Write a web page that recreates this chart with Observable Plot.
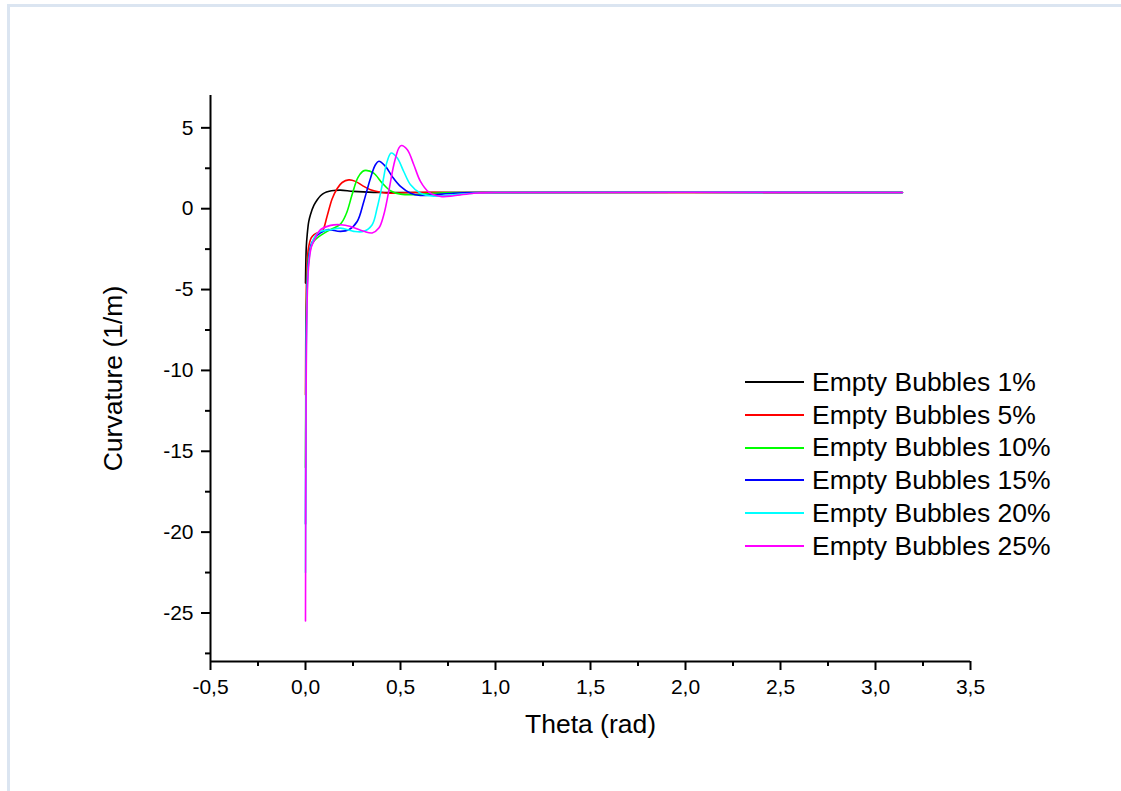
<!DOCTYPE html>
<html><head><meta charset="utf-8">
<script src="https://cdn.jsdelivr.net/npm/d3@7"></script>
<script src="https://cdn.jsdelivr.net/npm/@observablehq/plot@0.6"></script>
<style>
body{margin:0;background:#fff;}
#wrap{position:relative;width:1121px;height:791px;overflow:hidden;font-family:"Liberation Sans",Arial,sans-serif;background:#fff;}
#border{position:absolute;left:7px;top:4px;right:0;bottom:0;border-top:3px solid #dbe5f1;border-left:3px solid #dbe5f1;}
#chart{position:absolute;left:0;top:0;}
#legend{position:absolute;left:745px;top:366px;}
.row{display:flex;align-items:center;height:32.7px;}
.sw{width:59px;height:0;border-top:2px solid;margin-right:8px;}
.lab{font-size:26.5px;color:#000;line-height:1;white-space:nowrap;}
</style></head>
<body><div id="wrap"><div id="border"></div><div id="chart"></div><div id="legend"></div></div>
<script>
const seriesNames = ["Empty Bubbles 1%","Empty Bubbles 5%","Empty Bubbles 10%","Empty Bubbles 15%","Empty Bubbles 20%","Empty Bubbles 25%"];
const seriesColors = ["#000000","#ff0000","#00ff00","#0000ff","#00ffff","#ff00ff"];

const theta1 = [0, 0.004, 0.009, 0.017, 0.026, 0.044, 0.062, 0.079, 0.1, 0.125, 0.15, 0.184, 0.253, 0.358, 0.5, 1.0, 3.1416];
const curv1  = [-4.6, -2.4, -1.6, -0.8, -0.37, 0.2, 0.55, 0.8, 0.98, 1.08, 1.13, 1.15, 1.07, 1.01, 1.0, 1.0, 1.0];

const theta2 = [0, 0.003, 0.008, 0.016, 0.03, 0.045, 0.07, 0.088, 0.114, 0.14, 0.167, 0.193, 0.228, 0.263, 0.298, 0.342, 0.395, 0.447, 0.55, 1.0, 3.1416];
const curv2  = [-11.5, -6, -3.5, -2.4, -1.8, -1.6, -1.45, -1.4, -0.45, 0.6, 1.25, 1.62, 1.78, 1.69, 1.44, 1.17, 1.02, 0.96, 1.0, 1.0, 1.0];

const theta3 = [0, 0.003, 0.008, 0.016, 0.03, 0.045, 0.062, 0.114, 0.184, 0.215, 0.245, 0.275, 0.3, 0.318, 0.359, 0.404, 0.447, 0.5, 0.57, 0.674, 0.8, 3.1416];
const curv3  = [-16, -8, -4.5, -3.0, -2.3, -2.0, -1.8, -1.4, -0.95, -0.3, 0.86, 1.9, 2.3, 2.37, 2.2, 1.58, 1.11, 0.9, 0.86, 0.95, 1.0, 1.0];

const theta4 = [0, 0.003, 0.008, 0.016, 0.03, 0.05, 0.079, 0.114, 0.184, 0.228, 0.272, 0.307, 0.342, 0.368, 0.386, 0.421, 0.456, 0.5, 0.553, 0.605, 0.674, 0.779, 0.9, 3.1416];
const curv4  = [-19.5, -9.5, -5, -3.2, -2.2, -1.8, -1.5, -1.3, -1.4, -1.3, -0.79, 0.45, 1.89, 2.72, 2.93, 2.62, 2.0, 1.38, 0.96, 0.82, 0.86, 0.96, 1.0, 1.0];

const theta5 = [0, 0.003, 0.008, 0.016, 0.03, 0.05, 0.08, 0.132, 0.184, 0.254, 0.307, 0.351, 0.377, 0.404, 0.43, 0.451, 0.483, 0.517, 0.553, 0.605, 0.674, 0.779, 0.884, 1.0, 3.1416];
const curv5  = [-22.5, -11, -5.5, -3.4, -2.3, -1.7, -1.4, -1.3, -1.2, -1.4, -1.4, -0.99, 0.04, 1.48, 2.93, 3.44, 3.13, 2.3, 1.48, 0.96, 0.78, 0.86, 0.96, 1.0, 1.0];

const theta6 = [0, 0.003, 0.008, 0.016, 0.03, 0.044, 0.079, 0.132, 0.184, 0.237, 0.307, 0.351, 0.386, 0.412, 0.438, 0.465, 0.491, 0.505, 0.536, 0.57, 0.605, 0.649, 0.711, 0.781, 0.886, 1.0, 3.1416];
const curv6  = [-25.5, -12, -6, -3.6, -2.4, -2.0, -1.3, -1.03, -0.99, -1.1, -1.4, -1.5, -1.2, -0.37, 1.07, 2.72, 3.75, 3.91, 3.65, 2.72, 1.69, 1.03, 0.76, 0.80, 0.96, 1.0, 1.0];

const xTicks = [-0.5, 0, 0.5, 1, 1.5, 2, 2.5, 3, 3.5];
const xMinorTicks = [-0.25, 0.25, 0.75, 1.25, 1.75, 2.25, 2.75, 3.25];
const yTicks = [-25, -20, -15, -10, -5, 0, 5];
const yMinorTicks = [-27.5, -22.5, -17.5, -12.5, -7.5, -2.5, 2.5];
const xLabel = "Theta (rad)";
const yLabel = "Curvature (1/m)";

const thetas = [theta1, theta2, theta3, theta4, theta5, theta6];
const curvs = [curv1, curv2, curv3, curv4, curv5, curv6];
const data = seriesNames.flatMap((name, s) => thetas[s].map((t, i) => ({theta: t, k: curvs[s][i], name})));

const fontFamily = '"Liberation Sans", Arial, sans-serif';
const chart = Plot.plot({
  width: 1121, height: 791,
  marginLeft: 210, marginRight: 151, marginTop: 95, marginBottom: 130,
  style: {fontFamily, fontSize: "21px", background: "transparent", color: "#000"},
  x: {domain: [-0.5, 3.5]},
  y: {domain: [-28, 7]},
  color: {domain: seriesNames, range: seriesColors},
  marks: [
    Plot.axisX(xTicks, {tickSize: 9, tickPadding: 9, strokeWidth: 2, fontSize: 21, label: null, tickFormat: d => d.toFixed(1).replace(".", ",")}),
    Plot.axisX(xMinorTicks, {tickSize: 5, strokeWidth: 2, label: null, tickFormat: () => ""}),
    Plot.axisY(yTicks, {tickSize: 9, tickPadding: 8, strokeWidth: 2, fontSize: 21, label: null, tickFormat: d => String(d)}),
    Plot.axisY(yMinorTicks, {tickSize: 5, strokeWidth: 2, label: null, tickFormat: () => ""}),
    Plot.ruleY([-28], {strokeWidth: 2}),
    Plot.ruleX([-0.5], {strokeWidth: 2}),
    Plot.line(data, {x: "theta", y: "k", stroke: "name", z: "name", curve: "catmull-rom", strokeWidth: 1.6}),
    Plot.text([xLabel], {frameAnchor: "bottom", dy: 71, fontSize: 26.5, textAnchor: "middle"}),
    Plot.text([yLabel], {frameAnchor: "left", dx: -97, rotate: -90, fontSize: 26.5, textAnchor: "middle"})
  ]
});
document.getElementById("chart").appendChild(chart);

const legend = document.getElementById("legend");
seriesNames.forEach((name, i) => {
  const row = document.createElement("div");
  row.className = "row";
  const sw = document.createElement("div");
  sw.className = "sw";
  sw.style.borderTopColor = seriesColors[i];
  const lab = document.createElement("span");
  lab.className = "lab";
  lab.textContent = name;
  row.appendChild(sw); row.appendChild(lab);
  legend.appendChild(row);
});
</script>
</body></html>
